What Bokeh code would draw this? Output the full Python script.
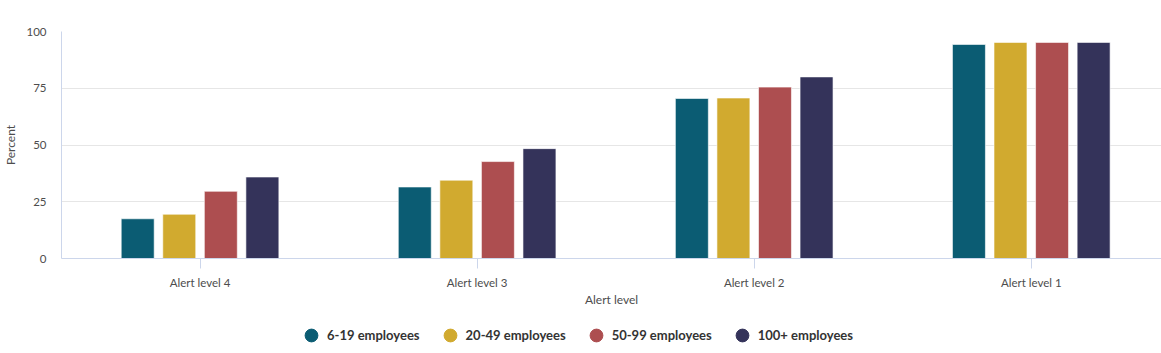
from bokeh.plotting import figure
from bokeh.layouts import column
from bokeh.models import Range1d, FixedTicker, Legend, LegendItem, ColumnDataSource
from bokeh.transform import dodge
from bokeh.embed import file_html
from bokeh.resources import INLINE

categories = ["Alert level 4", "Alert level 3", "Alert level 2", "Alert level 1"]
series_names = ["6-19 employees", "20-49 employees", "50-99 employees", "100+ employees"]
emp_6_19 = [17.5, 31.5, 70.5, 94.3]
emp_20_49 = [19.5, 34.5, 70.7, 95.2]
emp_50_99 = [29.6, 42.7, 75.5, 95.2]
emp_100_plus = [35.9, 48.4, 80.0, 95.2]
y_ticks = [0, 25, 50, 75, 100]

colors = ["#0b5c73", "#d1aa2f", "#ad4e50", "#34335a"]
offsets = [-0.225, -0.075, 0.075, 0.225]

FONT = "Lato"

source = ColumnDataSource(dict(
    idx=list(range(len(categories))),
    s0=emp_6_19, s1=emp_20_49, s2=emp_50_99, s3=emp_100_plus,
))

p = figure(width=1161, height=310, output_backend="svg", toolbar_location=None,
           x_range=Range1d(-0.5, 3.47), y_range=Range1d(0, 100),
           min_border_left=61, min_border_right=0, min_border_top=31,
           min_border_bottom=52)
p.outline_line_color = None
p.background_fill_color = "white"
p.border_fill_color = "white"

for k in range(4):
    p.vbar(x=dodge("idx", offsets[k]), top="s%d" % k, width=0.119, bottom=0,
           source=source, fill_color=colors[k], line_color="white",
           line_alpha=0.6, line_width=1)

# x axis
xa = p.xaxis[0]
xa.ticker = FixedTicker(ticks=list(range(len(categories))))
xa.major_label_overrides = {i: c for i, c in enumerate(categories)}
xa.axis_label = "Alert level"
xa.axis_label_text_font = FONT
xa.axis_label_text_font_style = "normal"
xa.axis_label_text_font_size = "12px"
xa.axis_label_text_color = "#4d4d4d"
xa.axis_label_standoff = 0
xa.major_label_text_font = FONT
xa.major_label_text_font_size = "11.5px"
xa.major_label_text_color = "#4d4d4d"
xa.major_label_standoff = 7
xa.major_tick_out = 10
xa.major_tick_in = 0
xa.minor_tick_out = 0
xa.minor_tick_in = 0
xa.axis_line_color = "#ccd6eb"
xa.major_tick_line_color = "#ccd6eb"

# y axis
ya = p.yaxis[0]
ya.ticker = FixedTicker(ticks=y_ticks)
ya.axis_label = "Percent"
ya.axis_label_text_font = FONT
ya.axis_label_text_font_style = "normal"
ya.axis_label_text_font_size = "12px"
ya.axis_label_text_color = "#4d4d4d"
ya.axis_label_standoff = 5
ya.major_label_text_font = FONT
ya.major_label_text_font_size = "11.5px"
ya.major_label_text_color = "#4d4d4d"
ya.major_label_standoff = 15
ya.major_tick_out = 0
ya.major_tick_in = 0
ya.minor_tick_out = 0
ya.minor_tick_in = 0
ya.axis_line_color = "#ccd6eb"

p.xgrid.grid_line_color = None
p.ygrid.ticker = FixedTicker(ticks=y_ticks)
p.ygrid.grid_line_color = "#e6e6e6"

# legend strip (separate figure below the chart)
lg = figure(width=1161, height=43, output_backend="svg", toolbar_location=None,
            x_range=Range1d(-0.5, 3.47), y_range=Range1d(200, 300),
            x_axis_type=None, y_axis_type=None,
            min_border_left=0, min_border_right=0, min_border_top=0,
            min_border_bottom=0)
lg.outline_line_color = None
lg.xgrid.visible = False
lg.ygrid.visible = False

items = []
for k in range(4):
    # zero-size markers (outside the strip's visible range) that only supply round legend symbols
    dot = lg.scatter(x=dodge("idx", offsets[k]), y="s%d" % k, source=source,
                     marker="circle", size=0, fill_color=colors[k], line_color=colors[k])
    items.append(LegendItem(label=series_names[k], renderers=[dot]))

legend = Legend(items=items, orientation="horizontal", location=(234, 2),
                label_text_font=FONT, label_text_font_style="bold",
                label_text_font_size="13px", label_text_color="#333333",
                glyph_width=32, glyph_height=32, label_standoff=0, spacing=14,
                border_line_color=None, background_fill_alpha=0,
                padding=0, margin=0)
lg.add_layout(legend, "center")

layout = column(p, lg, spacing=0)
open("out.html", "w").write(file_html(layout, INLINE))
